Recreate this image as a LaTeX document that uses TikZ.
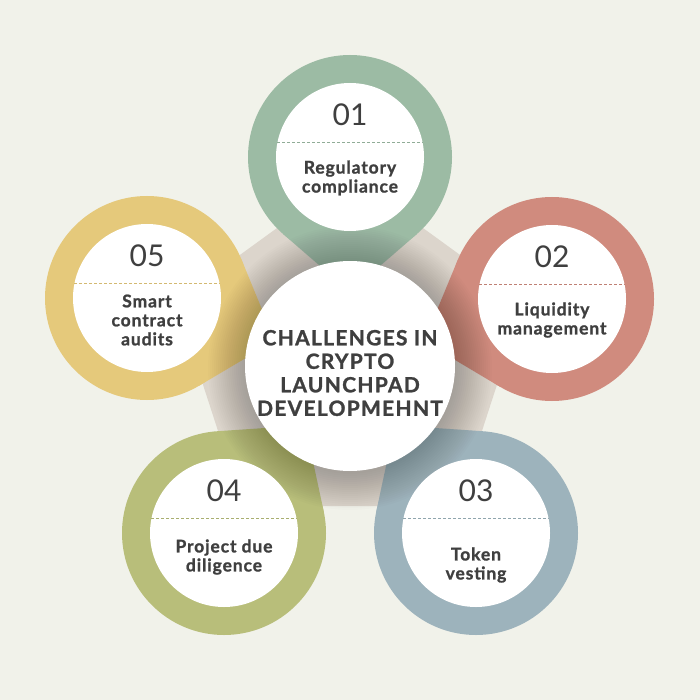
\documentclass[tikz,border=0pt]{standalone}
\usepackage{fontspec}
\setmainfont{Lato}
\usetikzlibrary{calc}
\definecolor{bgc}{HTML}{F1F2EA}
\definecolor{pentc}{HTML}{DCD5CC}
\definecolor{cgreen}{HTML}{9CBBA4}
\definecolor{cred}{HTML}{D08B7E}
\definecolor{cblue}{HTML}{9DB3BC}
\definecolor{colive}{HTML}{B8BE7A}
\definecolor{cyellow}{HTML}{E5C97B}
\definecolor{txt}{HTML}{3F3F3F}
\newcommand\petal[4]{%
  \coordinate (#1) at (#2,#3);
  \fill[#4] (#1) circle (102pt);
  \fill[#4] ($(#1)!135pt!(C)$) -- ($(#1)!102pt!40.9:(C)$) -- (#1) -- ($(#1)!102pt!-40.9:(C)$) -- cycle;
}
\newcommand\petalinner[4]{%
  \fill[white] (#1) circle (74pt);
  \draw[#2!92!black, line width=0.8pt, dash pattern=on 3pt off 2pt] ($(#1)+(-72.6,-14.5)$) -- ($(#1)+(72.6,-14.5)$);
  \node[numtext] (#1num) at ($(#1)+(0,-42)$) {#3};
  \node[labtext] (#1lab) at ($(#1)+(0,#4)$)
}
\tikzset{
  numtext/.style={text=txt, inner sep=0pt, font=\fontsize{30}{30}\selectfont},
  labtext/.style={text=txt, inner sep=0pt, align=center, font=\fontsize{17.5}{19}\selectfont\bfseries\addfontfeature{LetterSpace=5,FakeBold=1.2}},
  titletext/.style={text=txt, inner sep=0pt, align=center, font=\fontsize{21}{23.5}\selectfont\bfseries\addfontfeature{LetterSpace=6,FakeBold=1.2}},
  shadowring/.style={fill=black, opacity=0.01}
}
\begin{document}
\begin{tikzpicture}[x=1pt,y=-1pt]
\useasboundingbox (0,0) rectangle (700,700);
\fill[bgc] (0,0) rectangle (700,700);
\coordinate (C) at (350,366);
\coordinate (P) at (350,358);
\fill[pentc] ($(P)+(-90:183)$) -- ($(P)+(-18:183)$) -- ($(P)+(54:183)$) -- ($(P)+(126:183)$) -- ($(P)+(198:183)$) -- cycle;
\petal{p1}{350}{157}{cgreen}
\petal{p2}{552}{299}{cred}
\petal{p3}{476}{533}{cblue}
\petal{p4}{224}{533}{colive}
\petal{p5}{147}{298}{cyellow}
\foreach \r in {106,108,...,142} { \fill[shadowring] ($(C)+(0,2)$) circle (\r pt); }
\node[circle, fill=white, minimum size=210pt, inner sep=0pt] (center) at (C) {};
\petalinner{p1}{cgreen}{01}{21}{Regulatory\\compliance};
\petalinner{p2}{cred}{02}{21}{Liquidity\\management};
\petalinner{p3}{cblue}{03}{32}{Token\\vesting};
\petalinner{p4}{colive}{04}{24}{Project due\\diligence};
\petalinner{p5}{cyellow}{05}{22}{Smart\\contract\\audits};
\node[titletext] (title) at (350,373) {CHALLENGES IN\\CRYPTO\\LAUNCHPAD\\DEVELOPMEHNT};
\end{tikzpicture}
\end{document}
